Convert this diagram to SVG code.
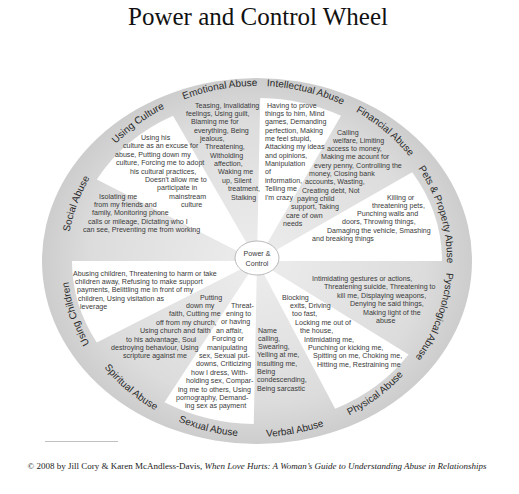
<svg xmlns="http://www.w3.org/2000/svg" width="519" height="494" viewBox="0 0 519 494">
<defs>
<radialGradient id="gr" cx="257" cy="261" r="215" gradientUnits="userSpaceOnUse" gradientTransform="translate(257 261) scale(1 0.851) translate(-257 -261)">
<stop offset="0" stop-color="#ededed"/>
<stop offset="0.78" stop-color="#dcdcdc"/>
<stop offset="1" stop-color="#cdcdcd"/>
</radialGradient>
<path id="pEmo" d="M119.17,140.53 A190,175 0 0 1 332.75,100.51"/>
<path id="pInt" d="M192.65,96.34 A190,175 0 0 1 402.98,148.98"/>
<path id="pFin" d="M283.45,87.7 A190,175 0 0 1 442.84,224.62"/>
<path id="pPet" d="M378.37,126.35 A190,175 0 0 1 435.89,319.99"/>
<path id="pPsy" d="M438.98,210.7 A190,175 0 0 1 370.54,401.32"/>
<path id="pChi" d="M140.28,399.09 A190,175 0 0 1 76.2,207.2"/>
<path id="pSoc" d="M74.83,310.7 A190,175 0 0 1 143.99,120.32"/>
<path id="pCul" d="M74.18,213.35 A190,175 0 0 1 243.09,86.47"/>
<path id="pPhy" d="M273.4,436.35 A192,176 0 0 0 442.38,306.85"/>
<path id="pVer" d="M181.68,422.88 A192,176 0 0 0 397.2,381.26"/>
<path id="pSex" d="M109.06,373.18 A192,176 0 0 0 321.42,426.81"/>
<path id="pSpi" d="M69.13,297.29 A192,176 0 0 0 229.95,435.24"/>
</defs>
<style>
.t{font-family:"Liberation Sans",Arial,sans-serif;font-size:7.1px;fill:#3a3a3a}
.l{font-family:"Liberation Sans",Arial,sans-serif;font-size:10px;fill:#2a2a2a}
.w{fill:#ffffff}
.ttl{font-family:"Liberation Serif","Times New Roman",serif;font-size:25px;fill:#111}
.ft{font-family:"Liberation Serif","Times New Roman",serif;font-size:9px;fill:#222}
</style>
<rect width="519" height="494" fill="#ffffff"/>
<text class="ttl" x="258" y="25" text-anchor="middle">Power and Control Wheel</text>
<g id="wheel">
<ellipse cx="257" cy="261" rx="215" ry="183" fill="url(#gr)"/>
<path class="w" d="M257,261 L260.23,98.02 A185,163 0 0 1 340.99,115.77 Z"/>
<path class="w" d="M257,261 L412.16,172.23 A185,163 0 0 1 442,261 Z"/>
<path class="w" d="M257,261 L408.55,354.49 A185,163 0 0 1 335.18,408.73 Z"/>
<path class="w" d="M257,261 L253.77,423.98 A185,163 0 0 1 164.5,402.16 Z"/>
<path class="w" d="M257,261 L96.79,342.5 A185,163 0 0 1 72,261 Z"/>
<path class="w" d="M257,261 L96.79,179.5 A185,163 0 0 1 173.01,115.77 Z"/>
</g>
<g id="connectors"></g>
<g id="emotional">
<text class="l"><textPath href="#pEmo" startOffset="50%" text-anchor="middle">Emotional Abuse</textPath></text>
<text class="t"><tspan x="195" y="107.5">Teasing, Invalidating</tspan><tspan x="186" y="115.9">feelings, Using guilt,</tspan><tspan x="191" y="124.2">Blaming me for</tspan><tspan x="194" y="132.6">everything, Being</tspan><tspan x="200" y="140.9">jealous,</tspan><tspan x="205" y="149.3">Threatening,</tspan><tspan x="210" y="157.7">Witholding</tspan><tspan x="214" y="166">affection,</tspan><tspan x="218" y="174.4">Waking me</tspan><tspan x="222" y="182.7">up, Silent</tspan><tspan x="228" y="191.1">treatment,</tspan><tspan x="231" y="199.5">Stalking</tspan></text>
</g>
<g id="intellectual">
<text class="l"><textPath href="#pInt" startOffset="50%" text-anchor="middle">Intellectual Abuse</textPath></text>
<text class="t"><tspan x="267" y="107.5">Having to prove</tspan><tspan x="265" y="115.9">things to him, Mind</tspan><tspan x="265" y="124.2">games, Demanding</tspan><tspan x="265" y="132.6">perfection, Making</tspan><tspan x="265" y="140.9">me feel stupid,</tspan><tspan x="265" y="149.3">Attacking my ideas</tspan><tspan x="265" y="157.7">and opinions,</tspan><tspan x="265" y="166">Manipulation</tspan><tspan x="265" y="174.4">of</tspan><tspan x="265" y="182.7">information,</tspan><tspan x="265" y="191.1">Telling me</tspan><tspan x="265" y="199.5">I'm crazy</tspan></text>
</g>
<g id="financial">
<text class="l"><textPath href="#pFin" startOffset="50%" text-anchor="middle">Financial Abuse</textPath></text>
<text class="t"><tspan x="337" y="134.5">Calling</tspan><tspan x="333" y="142.8">welfare, Limiting</tspan><tspan x="327" y="151.1">access to money,</tspan><tspan x="321" y="159.4">Making me acount for</tspan><tspan x="314" y="167.7">every penny, Controlling the</tspan><tspan x="309" y="176">money, Closing bank</tspan><tspan x="305" y="184.3">accounts, Wasting,</tspan><tspan x="302" y="192.6">Creating debt, Not</tspan><tspan x="297" y="200.9">paying child</tspan><tspan x="291" y="209.2">support, Taking</tspan><tspan x="286" y="217.5">care of own</tspan><tspan x="283" y="225.8">needs</tspan></text>
</g>
<g id="pets">
<text class="l"><textPath href="#pPet" startOffset="50%" text-anchor="middle">Pets &amp; Property Abuse</textPath></text>
<text class="t"><tspan x="387" y="199.5">Killing or</tspan><tspan x="372" y="207.8">threatening pets,</tspan><tspan x="357" y="216.1">Punching walls and</tspan><tspan x="342" y="224.4">doors, Throwing things,</tspan><tspan x="327" y="232.7">Damaging the vehicle, Smashing</tspan><tspan x="312" y="241">and breaking things</tspan></text>
</g>
<g id="psychological">
<text class="l"><textPath href="#pPsy" startOffset="50%" text-anchor="middle">Pyschological Abuse</textPath></text>
<text class="t"><tspan x="312" y="280.5">Intimidating gestures or actions,</tspan><tspan x="324" y="289">Threatening suicide, Threatening to</tspan><tspan x="337" y="297.5">kill me, Displaying weapons,</tspan><tspan x="350" y="306">Denying he said things,</tspan><tspan x="363" y="314.5">Making light of the</tspan><tspan x="376" y="323">abuse</tspan></text>
</g>
<g id="physical">
<text class="l"><textPath href="#pPhy" startOffset="50%" text-anchor="middle">Physical Abuse</textPath></text>
<text class="t"><tspan x="282" y="299.5">Blocking</tspan><tspan x="290" y="307.9">exits, Driving</tspan><tspan x="292" y="316.3">too fast,</tspan><tspan x="295" y="324.7">Locking me out of</tspan><tspan x="300" y="333.1">the house,</tspan><tspan x="304" y="341.5">Intimidating me,</tspan><tspan x="308" y="349.9">Punching or kicking me,</tspan><tspan x="313" y="358.3">Spitting on me, Choking me,</tspan><tspan x="317" y="366.7">Hitting me, Restraining me</tspan></text>
</g>
<g id="verbal">
<text class="l"><textPath href="#pVer" startOffset="50%" text-anchor="middle">Verbal Abuse</textPath></text>
<text class="t"><tspan x="258" y="332.5">Name</tspan><tspan x="258" y="340.8">calling,</tspan><tspan x="258" y="349.1">Swearing,</tspan><tspan x="257" y="357.4">Yelling at me,</tspan><tspan x="257" y="365.7">Insulting me,</tspan><tspan x="257" y="374">Being</tspan><tspan x="257" y="382.3">condescending,</tspan><tspan x="257" y="390.6">Being sarcastic</tspan></text>
</g>
<g id="sexual">
<text class="l"><textPath href="#pSex" startOffset="50%" text-anchor="middle">Sexual Abuse</textPath></text>
<text class="t"><tspan x="231" y="307.5">Threat-</tspan><tspan x="226" y="315.9">ening to</tspan><tspan x="221" y="324.3">or having</tspan><tspan x="216" y="332.7">an affair,</tspan><tspan x="212" y="341.1">Forcing or</tspan><tspan x="207" y="349.5">manipulating</tspan><tspan x="199" y="357.9">sex, Sexual put-</tspan><tspan x="196" y="366.3">downs, Criticizing</tspan><tspan x="191" y="374.7">how I dress, With-</tspan><tspan x="186" y="383.1">holding sex, Compar-</tspan><tspan x="178" y="391.5">ing me to others, Using</tspan><tspan x="176" y="399.9">pornography, Demand-</tspan><tspan x="185" y="408.3">ing sex as payment</tspan></text>
</g>
<g id="spiritual">
<text class="l"><textPath href="#pSpi" startOffset="50%" text-anchor="middle">Spiritual Abuse</textPath></text>
<text class="t"><tspan x="200" y="299.5">Putting</tspan><tspan x="186" y="307.9">down my</tspan><tspan x="169" y="316.3">faith, Cutting me</tspan><tspan x="156" y="324.7">off from my church,</tspan><tspan x="140" y="333.1">Using church and faith</tspan><tspan x="126" y="341.5">to his advantage, Soul</tspan><tspan x="111" y="349.9">destroying behaviour, Using</tspan><tspan x="123" y="358.3">scripture against me</tspan></text>
</g>
<g id="children">
<text class="l"><textPath href="#pChi" startOffset="50%" text-anchor="middle">Using Children</textPath></text>
<text class="t"><tspan x="73" y="275.5">Abusing children, Threatening to harm or take</tspan><tspan x="75" y="283.9">children away, Refusing to make support</tspan><tspan x="77" y="292.3">payments, Belittling me in front of my</tspan><tspan x="78" y="300.7">children, Using visitation as</tspan><tspan x="80" y="309.1">leverage</tspan></text>
</g>
<g id="social">
<text class="l"><textPath href="#pSoc" startOffset="50%" text-anchor="middle">Social Abuse</textPath></text>
<text class="t"><tspan x="99" y="198.5">Isolating me</tspan><tspan x="94" y="206.9">from my friends and</tspan><tspan x="92" y="215.3">family, Monitoring phone</tspan><tspan x="88" y="223.7">calls or mileage, Dictating who I</tspan><tspan x="83" y="232.1">can see, Preventing me from working</tspan></text>
</g>
<g id="culture">
<text class="l"><textPath href="#pCul" startOffset="50%" text-anchor="middle">Using Culture</textPath></text>
<text class="t"><tspan x="141" y="140">Using his</tspan><tspan x="123" y="148.4">culture as an excuse for</tspan><tspan x="115" y="156.8">abuse, Putting down my</tspan><tspan x="116" y="165.2">culture, Forcing me to adopt</tspan><tspan x="130" y="173.6">his cultural practices,</tspan><tspan x="145" y="182">Doesn't allow me to</tspan><tspan x="157" y="190.4">participate in</tspan><tspan x="169" y="198.8">mainstream</tspan><tspan x="181" y="207.2">culture</tspan></text>
</g>
<g id="hub">
<ellipse cx="257" cy="258" rx="22" ry="17" fill="#ffffff" stroke="#a8a8a8" stroke-width="0.8"/>
<text class="t" x="257" y="256" text-anchor="middle">Power &amp;</text>
<text class="t" x="257" y="265.5" text-anchor="middle">Control</text>
</g>
<line x1="45" y1="441.5" x2="118" y2="441.5" stroke="#b0b0b0" stroke-width="0.8"/>
<text class="ft" x="257" y="469" text-anchor="middle">© 2008 by Jill Cory &amp; Karen McAndless-Davis, <tspan font-style="italic">When Love Hurts: A Woman’s Guide to Understanding Abuse in Relationships</tspan></text>
</svg>
